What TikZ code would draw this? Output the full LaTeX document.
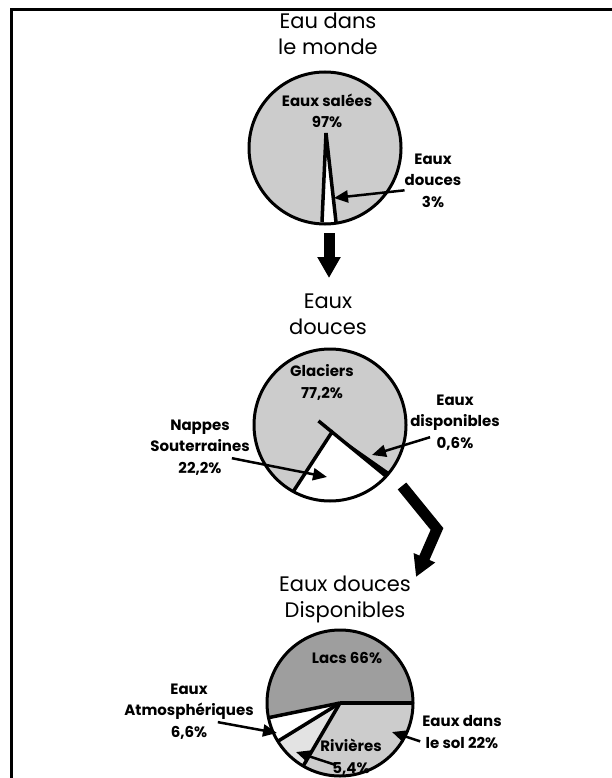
\documentclass[tikz,border=0pt]{standalone}
\usepackage{fontspec}
\setmainfont{Poppins}
\usetikzlibrary{calc}
\usetikzlibrary{arrows.meta}
\usetikzlibrary{positioning}
\definecolor{grisclair}{gray}{0.80}
\definecolor{grisfonce}{gray}{0.62}
\definecolor{grispale}{gray}{0.89}
\tikzset{titre/.style={align=center,inner sep=0pt,font=\fontsize{21}{26}\selectfont}}
\tikzset{etiq/.style={align=center,inner sep=0pt,font=\fontsize{15}{21.5}\selectfont\bfseries}}
\tikzset{rim/.style={line width=3pt,draw=black}}
\tikzset{cut/.style={line width=3.5pt}}
\tikzset{ptr/.style={line width=2.5pt,-{Triangle[length=14pt,width=12pt]}}}
\tikzset{bigarrow/.style={line width=11pt,-{Triangle[length=21pt,width=22pt]}}}

\begin{document}
\begin{tikzpicture}[x=1pt,y=-1pt]
\useasboundingbox (0,0) rectangle (612,778);
\draw[line width=3pt] (11,778) -- (11,9.5) -- (612,9.5);

% Eau dans le monde
\coordinate (cA) at (325,148);
\fill[grisclair] (cA) circle (76);
\coordinate (slA) at (326,133);
\coordinate (slB) at (322,222);
\coordinate (slC) at (336,222);
\fill[white] (slA) -- (slB) -- (slC) -- cycle;
\draw[cut] (slB) -- (slA) -- (slC);
\draw[rim] (cA) circle (76);

\node[titre,anchor=base] (tA) at (328,55) {Eau dans\\le monde};
\node[etiq,anchor=base] (lSal) at (327,128) {Eaux salées\\97\%};
\node[etiq,anchor=base] (lDoA) at (433,207) {Eaux\\douces\\3\%};
\coordinate (tipA) at (334,198);
\draw[ptr] ($(lDoA.west)+(0,10)$) -- (tipA);

\coordinate (dnA) at (329,233);
\coordinate (dnB) at (329,278);
\draw[bigarrow] (dnA) -- (dnB);

% Eaux douces
\coordinate (cB) at (330,425);
\coordinate (apB) at (332,432);
\fill[grisclair] (cB) circle (76);
\fill[white] (apB) -- ($(cB)+(118.9:76)$) arc[start angle=118.9,end angle=42.4,radius=76] -- cycle;
\fill[black] (apB) -- ($(cB)+(42.4:76)$) arc[start angle=42.4,end angle=38.5,radius=76] -- cycle;
\draw[cut] ($(cB)+(118.9:76)$) -- (apB) -- ($(cB)+(42.4:76)$);
\draw[cut] (apB) -- ($(apB)!-0.25!($(cB)+(42.4:76)$)$);
\draw[rim] (cB) circle (76);

\node[titre,anchor=base] (tB) at (328,334) {Eaux\\douces};
\node[etiq,anchor=base] (lGla) at (322,398) {Glaciers\\77,2\%};
\node[etiq,anchor=base] (lDis) at (455,448) {Eaux\\disponibles\\0,6\%};
\node[etiq,anchor=base] (lNap) at (200,473) {Nappes\\Souterraines\\22,2\%};
\coordinate (tipB) at (372,455);
\coordinate (tipC) at (327,477);
\draw[ptr] ($(lDis.west)+(20,15)$) -- (tipB);
\draw[ptr] ($(lNap.east)+(-18,11)$) -- (tipC);

\coordinate (bdA) at (402,486);
\coordinate (bdB) at (437,529);
\coordinate (bdC) at (416,577);
\draw[bigarrow] (bdA) -- (bdB) -- (bdC);

% Eaux douces disponibles
\coordinate (cC) at (340,703);
\fill[grisfonce] (cC) -- ($(cC)+(168.4:73)$) arc[start angle=168.4,end angle=360,radius=73] -- cycle;
\fill[white] (cC) -- ($(cC)+(148.4:73)$) arc[start angle=148.4,end angle=168.4,radius=73] -- cycle;
\fill[grispale] (cC) -- ($(cC)+(120.3:73)$) arc[start angle=120.3,end angle=148.4,radius=73] -- cycle;
\fill[grisclair] (cC) -- ($(cC)+(0:73)$) arc[start angle=0,end angle=120.3,radius=73] -- cycle;
\foreach \a in {0,120.3,148.4,168.4}
	\draw[cut] (cC) -- ($(cC)+(\a:73)$);
\draw[rim] (cC) circle (73);

\node[titre,anchor=base] (tC) at (345,617) {Eaux douces\\Disponibles};
\node[etiq,anchor=base] (lLac) at (347,663) {Lacs 66\%};
\node[etiq,anchor=base] (lAtm) at (189,737) {Eaux\\Atmosphériques\\6,6\%};
\node[etiq,anchor=base] (lSol) at (462,748) {Eaux dans\\le sol 22\%};
\node[etiq,anchor=base] (lRiv) at (351,773) {Rivières\\5,4\%};
\coordinate (tipD) at (277,733);
\coordinate (tipE) at (392,732);
\coordinate (tipF) at (296,752);
\draw[ptr] ($(lAtm.south east)+(-36,-17)$) -- (tipD);
\draw[ptr] ($(lSol.south west)+(-2,-7)$) -- (tipE);
\draw[ptr] ($(lRiv.south west)+(16,-10)$) -- (tipF);
\end{tikzpicture}
\end{document}
